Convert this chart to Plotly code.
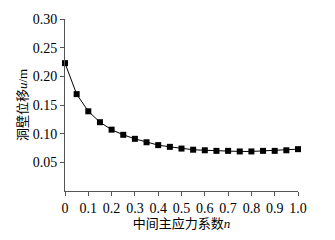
import plotly.graph_objects as go

n_vals = [0.0, 0.05, 0.1, 0.15, 0.2, 0.25, 0.3, 0.35, 0.4, 0.45, 0.5,
          0.55, 0.6, 0.65, 0.7, 0.75, 0.8, 0.85, 0.9, 0.95, 1.0]
u_vals = [0.223, 0.169, 0.139, 0.120, 0.107, 0.098, 0.091, 0.085, 0.080, 0.077, 0.074,
          0.072, 0.071, 0.070, 0.070, 0.069, 0.069, 0.070, 0.070, 0.071, 0.073]
x_ticks = [0, 0.1, 0.2, 0.3, 0.4, 0.5, 0.6, 0.7, 0.8, 0.9, 1.0]
x_ticktext = ["0", "0.1", "0.2", "0.3", "0.4", "0.5", "0.6", "0.7", "0.8", "0.9", "1.0"]
y_ticks = [0.05, 0.10, 0.15, 0.20, 0.25, 0.30]
y_ticktext = ["0.05", "0.10", "0.15", "0.20", "0.25", "0.30"]

serif = "Liberation Serif, Times New Roman, serif"
cjk = "Liberation Serif, Noto Sans CJK SC, serif"

fig = go.Figure()
fig.add_trace(go.Scatter(
    x=n_vals, y=u_vals, mode="lines+markers",
    line=dict(color="black", width=1),
    marker=dict(symbol="square", size=6, color="black"),
    showlegend=False, cliponaxis=False,
))

fig.update_layout(
    width=335, height=240,
    margin=dict(l=65, r=37, t=12, b=38),
    paper_bgcolor="white", plot_bgcolor="white",
    font=dict(family=serif, size=14, color="black"),
    xaxis=dict(
        range=[0, 1.0], tickvals=x_ticks, ticktext=x_ticktext,
        showline=True, linecolor="#555", linewidth=1,
        ticks="outside", ticklen=4, tickcolor="#555",
        showgrid=False, zeroline=False,
        title=dict(text="中间主应力系数<i>n</i>", font=dict(family=cjk, size=13), standoff=3),
    ),
    yaxis=dict(
        range=[0, 0.30], tickvals=y_ticks, ticktext=y_ticktext,
        showline=True, linecolor="#555", linewidth=1,
        ticks="outside", ticklen=4, tickcolor="#555",
        showgrid=False, zeroline=False,
        title=dict(text="洞壁位移<i>u</i>/m", font=dict(family=cjk, size=13), standoff=2),
    ),
)

fig.write_html("out.html")
